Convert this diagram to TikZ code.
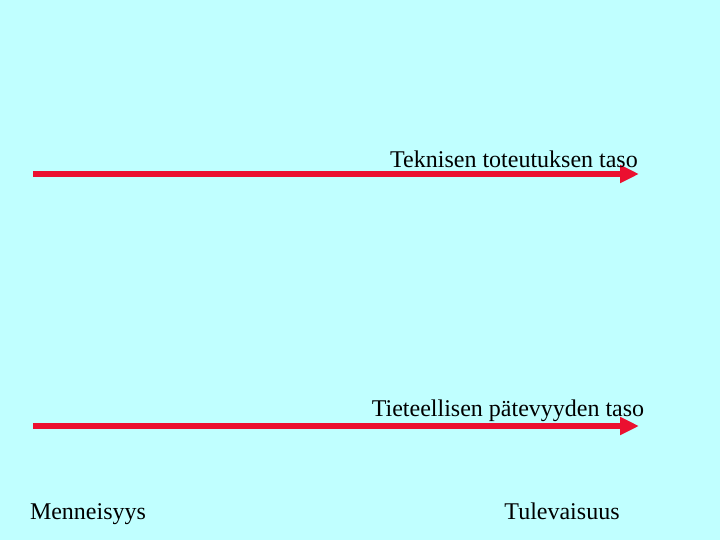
\documentclass[tikz,border=0pt]{standalone}
\usepackage{fontspec}
\setmainfont{Liberation Serif}
\usetikzlibrary{arrows.meta}
\usetikzlibrary{positioning}
\definecolor{bgcyan}{RGB}{192,255,255}
\definecolor{arrowred}{RGB}{235,16,48}

\begin{document}
\begin{tikzpicture}[x=1pt,y=-1pt,
    level/.style={draw=arrowred, line width=6.5pt, -{Triangle[length=19pt,width=17pt]}},
    label/.style={anchor=base, inner sep=0pt, font=\fontsize{24}{28}\selectfont}]
		\fill[bgcyan] (0,0) rectangle (720,540);
		\useasboundingbox (0,0) rectangle (720,540);
		% tasot
		\coordinate (tekA) at (33,174);
		\coordinate (tekB) at (639,174);
		\coordinate (tieA) at (33,426);
		\coordinate (tieB) at (639,426);
		\draw[level] (tekA) -- (tekB);
		\draw[level] (tieA) -- (tieB);
		\node[label] (tek) at (514,168) {Teknisen toteutuksen taso};
		\node[label] (tie) at (508,416) {Tieteellisen pätevyyden taso};
		% aika
		\node[label] (menn) at (88,519) {Menneisyys};
		\node[label] (tule) at (562,519) {Tulevaisuus};
	    \end{tikzpicture}
\end{document}
